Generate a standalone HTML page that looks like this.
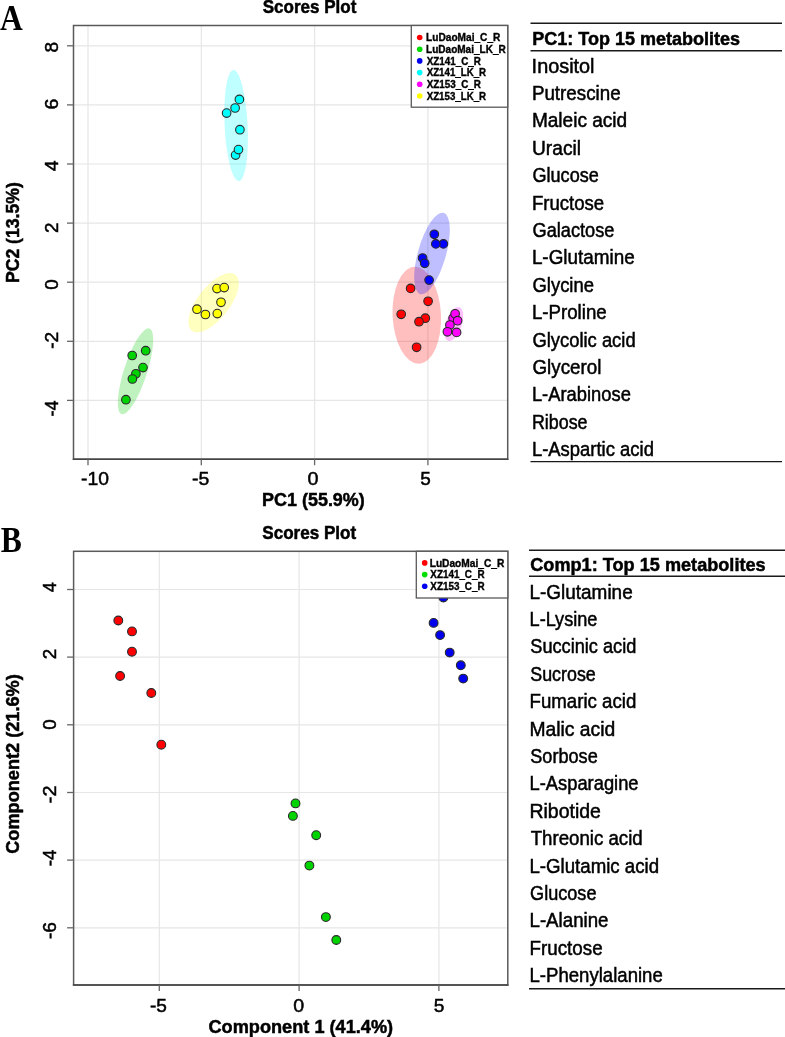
<!DOCTYPE html>
<html><head><meta charset="utf-8"><title>Scores Plot</title>
<style>html,body{margin:0;padding:0;background:#fff;width:785px;height:1037px;overflow:hidden}
svg text{font-kerning:normal}</style></head>
<body>
<svg width="785" height="1037" viewBox="0 0 785 1037" style="display:block;will-change:transform">
<rect x="0" y="0" width="785" height="1037" fill="#fff"/>
<line x1="88.0" y1="25.5" x2="88.0" y2="459.2" stroke="#e6e6e6" stroke-width="1.2"/>
<line x1="201.3" y1="25.5" x2="201.3" y2="459.2" stroke="#e6e6e6" stroke-width="1.2"/>
<line x1="314.6" y1="25.5" x2="314.6" y2="459.2" stroke="#e6e6e6" stroke-width="1.2"/>
<line x1="427.9" y1="25.5" x2="427.9" y2="459.2" stroke="#e6e6e6" stroke-width="1.2"/>
<line x1="73.5" y1="45.8" x2="507.7" y2="45.8" stroke="#e6e6e6" stroke-width="1.2"/>
<line x1="73.5" y1="104.9" x2="507.7" y2="104.9" stroke="#e6e6e6" stroke-width="1.2"/>
<line x1="73.5" y1="164.0" x2="507.7" y2="164.0" stroke="#e6e6e6" stroke-width="1.2"/>
<line x1="73.5" y1="223.1" x2="507.7" y2="223.1" stroke="#e6e6e6" stroke-width="1.2"/>
<line x1="73.5" y1="282.2" x2="507.7" y2="282.2" stroke="#e6e6e6" stroke-width="1.2"/>
<line x1="73.5" y1="341.3" x2="507.7" y2="341.3" stroke="#e6e6e6" stroke-width="1.2"/>
<line x1="73.5" y1="400.4" x2="507.7" y2="400.4" stroke="#e6e6e6" stroke-width="1.2"/>
<ellipse cx="0" cy="0" rx="24.2" ry="48.5" transform="translate(416.8,315.3) rotate(-2.8)" fill="#ff0000" fill-opacity="0.25"/>
<ellipse cx="0" cy="0" rx="11.5" ry="45.0" transform="translate(135.5,371.3) rotate(18.0)" fill="#00cd00" fill-opacity="0.25"/>
<ellipse cx="0" cy="0" rx="14.0" ry="42.3" transform="translate(432.0,253.5) rotate(16.0)" fill="#0000ff" fill-opacity="0.25"/>
<ellipse cx="0" cy="0" rx="11.5" ry="55.6" transform="translate(236.1,125.6) rotate(-2.8)" fill="#00ffff" fill-opacity="0.25"/>
<ellipse cx="0" cy="0" rx="8.0" ry="17.7" transform="translate(453.8,324.0) rotate(18.5)" fill="#ff00ff" fill-opacity="0.25"/>
<ellipse cx="0" cy="0" rx="16.0" ry="35.5" transform="translate(213.6,302.7) rotate(38.0)" fill="#ffff00" fill-opacity="0.25"/>
<rect x="73.5" y="25.5" width="434.2" height="433.7" fill="none" stroke="#5a5a5a" stroke-width="1.5"/>
<line x1="72.75" y1="459.2" x2="508.45" y2="459.2" stroke="#444" stroke-width="1.5"/>
<line x1="88.0" y1="459.2" x2="88.0" y2="465.2" stroke="#666" stroke-width="1.3"/>
<line x1="201.3" y1="459.2" x2="201.3" y2="465.2" stroke="#666" stroke-width="1.3"/>
<line x1="314.6" y1="459.2" x2="314.6" y2="465.2" stroke="#666" stroke-width="1.3"/>
<line x1="427.9" y1="459.2" x2="427.9" y2="465.2" stroke="#666" stroke-width="1.3"/>
<line x1="67.0" y1="45.8" x2="73.5" y2="45.8" stroke="#666" stroke-width="1.3"/>
<line x1="67.0" y1="104.9" x2="73.5" y2="104.9" stroke="#666" stroke-width="1.3"/>
<line x1="67.0" y1="164.0" x2="73.5" y2="164.0" stroke="#666" stroke-width="1.3"/>
<line x1="67.0" y1="223.1" x2="73.5" y2="223.1" stroke="#666" stroke-width="1.3"/>
<line x1="67.0" y1="282.2" x2="73.5" y2="282.2" stroke="#666" stroke-width="1.3"/>
<line x1="67.0" y1="341.3" x2="73.5" y2="341.3" stroke="#666" stroke-width="1.3"/>
<line x1="67.0" y1="400.4" x2="73.5" y2="400.4" stroke="#666" stroke-width="1.3"/>
<circle cx="410.6" cy="288.4" r="4.3" fill="#ff0000" stroke="#2a2a2a" stroke-width="1.1"/>
<circle cx="428.1" cy="301.3" r="4.3" fill="#ff0000" stroke="#2a2a2a" stroke-width="1.1"/>
<circle cx="401.2" cy="314.3" r="4.3" fill="#ff0000" stroke="#2a2a2a" stroke-width="1.1"/>
<circle cx="425.3" cy="318.2" r="4.3" fill="#ff0000" stroke="#2a2a2a" stroke-width="1.1"/>
<circle cx="419.0" cy="321.7" r="4.3" fill="#ff0000" stroke="#2a2a2a" stroke-width="1.1"/>
<circle cx="416.6" cy="347.3" r="4.3" fill="#ff0000" stroke="#2a2a2a" stroke-width="1.1"/>
<circle cx="145.7" cy="350.7" r="4.3" fill="#00d400" stroke="#2a2a2a" stroke-width="1.1"/>
<circle cx="132.2" cy="355.5" r="4.3" fill="#00d400" stroke="#2a2a2a" stroke-width="1.1"/>
<circle cx="143.0" cy="367.6" r="4.3" fill="#00d400" stroke="#2a2a2a" stroke-width="1.1"/>
<circle cx="135.9" cy="373.8" r="4.3" fill="#00d400" stroke="#2a2a2a" stroke-width="1.1"/>
<circle cx="132.4" cy="379.0" r="4.3" fill="#00d400" stroke="#2a2a2a" stroke-width="1.1"/>
<circle cx="125.9" cy="399.7" r="4.3" fill="#00d400" stroke="#2a2a2a" stroke-width="1.1"/>
<circle cx="434.3" cy="234.3" r="4.3" fill="#0000ff" stroke="#2a2a2a" stroke-width="1.1"/>
<circle cx="443.4" cy="243.9" r="4.3" fill="#0000ff" stroke="#2a2a2a" stroke-width="1.1"/>
<circle cx="435.8" cy="243.9" r="4.3" fill="#0000ff" stroke="#2a2a2a" stroke-width="1.1"/>
<circle cx="422.6" cy="258.0" r="4.3" fill="#0000ff" stroke="#2a2a2a" stroke-width="1.1"/>
<circle cx="424.7" cy="263.3" r="4.3" fill="#0000ff" stroke="#2a2a2a" stroke-width="1.1"/>
<circle cx="429.1" cy="280.1" r="4.3" fill="#0000ff" stroke="#2a2a2a" stroke-width="1.1"/>
<circle cx="239.4" cy="99.4" r="4.3" fill="#00ffff" stroke="#2a2a2a" stroke-width="1.1"/>
<circle cx="235.1" cy="108" r="4.3" fill="#00ffff" stroke="#2a2a2a" stroke-width="1.1"/>
<circle cx="226.6" cy="113.1" r="4.3" fill="#00ffff" stroke="#2a2a2a" stroke-width="1.1"/>
<circle cx="239.9" cy="129.7" r="4.3" fill="#00ffff" stroke="#2a2a2a" stroke-width="1.1"/>
<circle cx="235.6" cy="155.1" r="4.3" fill="#00ffff" stroke="#2a2a2a" stroke-width="1.1"/>
<circle cx="238.5" cy="149.6" r="4.3" fill="#00ffff" stroke="#2a2a2a" stroke-width="1.1"/>
<circle cx="453.1" cy="318.3" r="4.3" fill="#ff00ff" stroke="#2a2a2a" stroke-width="1.1"/>
<circle cx="455.1" cy="313.8" r="4.3" fill="#ff00ff" stroke="#2a2a2a" stroke-width="1.1"/>
<circle cx="457.6" cy="320.7" r="4.3" fill="#ff00ff" stroke="#2a2a2a" stroke-width="1.1"/>
<circle cx="449.9" cy="325" r="4.3" fill="#ff00ff" stroke="#2a2a2a" stroke-width="1.1"/>
<circle cx="447.4" cy="331.8" r="4.3" fill="#ff00ff" stroke="#2a2a2a" stroke-width="1.1"/>
<circle cx="456.6" cy="332.4" r="4.3" fill="#ff00ff" stroke="#2a2a2a" stroke-width="1.1"/>
<circle cx="217.0" cy="288.6" r="4.3" fill="#ffff00" stroke="#2a2a2a" stroke-width="1.1"/>
<circle cx="224.2" cy="287.6" r="4.3" fill="#ffff00" stroke="#2a2a2a" stroke-width="1.1"/>
<circle cx="221.0" cy="302.3" r="4.3" fill="#ffff00" stroke="#2a2a2a" stroke-width="1.1"/>
<circle cx="197.0" cy="309.2" r="4.3" fill="#ffff00" stroke="#2a2a2a" stroke-width="1.1"/>
<circle cx="205.4" cy="314.5" r="4.3" fill="#ffff00" stroke="#2a2a2a" stroke-width="1.1"/>
<circle cx="217.3" cy="313.6" r="4.3" fill="#ffff00" stroke="#2a2a2a" stroke-width="1.1"/>
<rect x="411.3" y="25.5" width="96.4" height="81.7" fill="#fff" stroke="#5a5a5a" stroke-width="1.3"/>
<circle cx="419.7" cy="37.5" r="2.8" fill="#ff0000"/>
<text x="426.09" y="41.10" font-family="Liberation Sans" font-weight="bold" font-size="10" textLength="74.33" lengthAdjust="spacingAndGlyphs" fill="#000" stroke="#000" stroke-width="0.35">LuDaoMai_C_R</text>
<circle cx="419.7" cy="49.2" r="2.8" fill="#00dd00"/>
<text x="426.10" y="52.80" font-family="Liberation Sans" font-weight="bold" font-size="10" textLength="79.62" lengthAdjust="spacingAndGlyphs" fill="#000" stroke="#000" stroke-width="0.35">LuDaoMai_LK_R</text>
<circle cx="419.7" cy="60.9" r="2.8" fill="#0000ee"/>
<text x="426.70" y="64.50" font-family="Liberation Sans" font-weight="bold" font-size="10" textLength="54.22" lengthAdjust="spacingAndGlyphs" fill="#000" stroke="#000" stroke-width="0.35">XZ141_C_R</text>
<circle cx="419.7" cy="72.6" r="2.8" fill="#00ffff"/>
<text x="426.70" y="76.20" font-family="Liberation Sans" font-weight="bold" font-size="10" textLength="59.42" lengthAdjust="spacingAndGlyphs" fill="#000" stroke="#000" stroke-width="0.35">XZ141_LK_R</text>
<circle cx="419.7" cy="84.3" r="2.8" fill="#ff00ff"/>
<text x="426.70" y="87.90" font-family="Liberation Sans" font-weight="bold" font-size="10" textLength="54.22" lengthAdjust="spacingAndGlyphs" fill="#000" stroke="#000" stroke-width="0.35">XZ153_C_R</text>
<circle cx="419.7" cy="96.0" r="2.8" fill="#ffff00"/>
<text x="426.70" y="99.60" font-family="Liberation Sans" font-weight="bold" font-size="10" textLength="59.42" lengthAdjust="spacingAndGlyphs" fill="#000" stroke="#000" stroke-width="0.35">XZ153_LK_R</text>
<text x="262.66" y="13.20" font-family="Liberation Sans" font-weight="bold" font-size="17.5" textLength="93.69" lengthAdjust="spacingAndGlyphs" fill="#000" stroke="#000" stroke-width="0.5">Scores Plot</text>
<text x="81.03" y="484.70" font-family="Liberation Sans" font-weight="normal" font-size="19" textLength="27.87" lengthAdjust="spacingAndGlyphs" fill="#000" stroke="#000" stroke-width="0.5">-10</text>
<text x="192.12" y="484.70" font-family="Liberation Sans" font-weight="normal" font-size="19" textLength="17.28" lengthAdjust="spacingAndGlyphs" fill="#000" stroke="#000" stroke-width="0.5">-5</text>
<text x="307.41" y="484.70" font-family="Liberation Sans" font-weight="normal" font-size="19" textLength="11.01" lengthAdjust="spacingAndGlyphs" fill="#000" stroke="#000" stroke-width="0.5">0</text>
<text x="420.24" y="484.70" font-family="Liberation Sans" font-weight="normal" font-size="19" textLength="10.54" lengthAdjust="spacingAndGlyphs" fill="#000" stroke="#000" stroke-width="0.5">5</text>
<text transform="translate(57.70,51.70) rotate(-90)" x="-0.77" y="0" font-family="Liberation Sans" font-weight="normal" font-size="19" textLength="10.66" lengthAdjust="spacingAndGlyphs" fill="#000" stroke="#000" stroke-width="0.5">8</text>
<text transform="translate(57.70,108.60) rotate(-90)" x="-0.98" y="0" font-family="Liberation Sans" font-weight="normal" font-size="19" textLength="10.89" lengthAdjust="spacingAndGlyphs" fill="#000" stroke="#000" stroke-width="0.5">6</text>
<text transform="translate(57.70,170.80) rotate(-90)" x="-0.39" y="0" font-family="Liberation Sans" font-weight="normal" font-size="19" textLength="10.90" lengthAdjust="spacingAndGlyphs" fill="#000" stroke="#000" stroke-width="0.5">4</text>
<text transform="translate(57.70,232.00) rotate(-90)" x="-0.95" y="0" font-family="Liberation Sans" font-weight="normal" font-size="19" textLength="10.52" lengthAdjust="spacingAndGlyphs" fill="#000" stroke="#000" stroke-width="0.5">2</text>
<text transform="translate(57.70,289.30) rotate(-90)" x="-0.56" y="0" font-family="Liberation Sans" font-weight="normal" font-size="19" textLength="10.44" lengthAdjust="spacingAndGlyphs" fill="#000" stroke="#000" stroke-width="0.5">0</text>
<text transform="translate(57.70,348.00) rotate(-90)" x="-0.77" y="0" font-family="Liberation Sans" font-weight="normal" font-size="19" textLength="17.05" lengthAdjust="spacingAndGlyphs" fill="#000" stroke="#000" stroke-width="0.5">-2</text>
<text transform="translate(57.70,415.80) rotate(-90)" x="-0.73" y="0" font-family="Liberation Sans" font-weight="normal" font-size="19" textLength="16.21" lengthAdjust="spacingAndGlyphs" fill="#000" stroke="#000" stroke-width="0.5">-4</text>
<text x="262.12" y="505.70" font-family="Liberation Sans" font-weight="bold" font-size="19" textLength="102.65" lengthAdjust="spacingAndGlyphs" fill="#000" stroke="#000" stroke-width="0.5">PC1 (55.9%)</text>
<text transform="translate(19.00,282.00) rotate(-90)" x="-1.06" y="0" font-family="Liberation Sans" font-weight="bold" font-size="19" textLength="100.81" lengthAdjust="spacingAndGlyphs" fill="#000" stroke="#000" stroke-width="0.5">PC2 (13.5%)</text>
<text x="0.00" y="29.60" font-family="Liberation Serif" font-weight="bold" font-size="36" textLength="22.77" lengthAdjust="spacingAndGlyphs" fill="#000">A</text>
<line x1="159.3" y1="551.3" x2="159.3" y2="985.0" stroke="#e6e6e6" stroke-width="1.2"/>
<line x1="299.1" y1="551.3" x2="299.1" y2="985.0" stroke="#e6e6e6" stroke-width="1.2"/>
<line x1="438.9" y1="551.3" x2="438.9" y2="985.0" stroke="#e6e6e6" stroke-width="1.2"/>
<line x1="73.6" y1="589.5" x2="507.8" y2="589.5" stroke="#e6e6e6" stroke-width="1.2"/>
<line x1="73.6" y1="657.1" x2="507.8" y2="657.1" stroke="#e6e6e6" stroke-width="1.2"/>
<line x1="73.6" y1="724.8" x2="507.8" y2="724.8" stroke="#e6e6e6" stroke-width="1.2"/>
<line x1="73.6" y1="792.5" x2="507.8" y2="792.5" stroke="#e6e6e6" stroke-width="1.2"/>
<line x1="73.6" y1="860.1" x2="507.8" y2="860.1" stroke="#e6e6e6" stroke-width="1.2"/>
<line x1="73.6" y1="927.8" x2="507.8" y2="927.8" stroke="#e6e6e6" stroke-width="1.2"/>
<rect x="73.6" y="551.3" width="434.20000000000005" height="433.70000000000005" fill="none" stroke="#5a5a5a" stroke-width="1.5"/>
<line x1="72.85" y1="985.0" x2="508.55" y2="985.0" stroke="#444" stroke-width="1.5"/>
<line x1="159.3" y1="985.0" x2="159.3" y2="991.0" stroke="#666" stroke-width="1.3"/>
<line x1="299.1" y1="985.0" x2="299.1" y2="991.0" stroke="#666" stroke-width="1.3"/>
<line x1="438.9" y1="985.0" x2="438.9" y2="991.0" stroke="#666" stroke-width="1.3"/>
<line x1="67.1" y1="589.5" x2="73.6" y2="589.5" stroke="#666" stroke-width="1.3"/>
<line x1="67.1" y1="657.1" x2="73.6" y2="657.1" stroke="#666" stroke-width="1.3"/>
<line x1="67.1" y1="724.8" x2="73.6" y2="724.8" stroke="#666" stroke-width="1.3"/>
<line x1="67.1" y1="792.5" x2="73.6" y2="792.5" stroke="#666" stroke-width="1.3"/>
<line x1="67.1" y1="860.1" x2="73.6" y2="860.1" stroke="#666" stroke-width="1.3"/>
<line x1="67.1" y1="927.8" x2="73.6" y2="927.8" stroke="#666" stroke-width="1.3"/>
<circle cx="118.3" cy="620.5" r="4.4" fill="#ff0000" stroke="#2a2a2a" stroke-width="1.1"/>
<circle cx="132.0" cy="631.4" r="4.4" fill="#ff0000" stroke="#2a2a2a" stroke-width="1.1"/>
<circle cx="132.0" cy="651.7" r="4.4" fill="#ff0000" stroke="#2a2a2a" stroke-width="1.1"/>
<circle cx="120.1" cy="676.0" r="4.4" fill="#ff0000" stroke="#2a2a2a" stroke-width="1.1"/>
<circle cx="151.3" cy="693.0" r="4.4" fill="#ff0000" stroke="#2a2a2a" stroke-width="1.1"/>
<circle cx="161.3" cy="744.7" r="4.4" fill="#ff0000" stroke="#2a2a2a" stroke-width="1.1"/>
<circle cx="295.5" cy="803.4" r="4.4" fill="#00d400" stroke="#2a2a2a" stroke-width="1.1"/>
<circle cx="292.9" cy="815.9" r="4.4" fill="#00d400" stroke="#2a2a2a" stroke-width="1.1"/>
<circle cx="316.2" cy="835.2" r="4.4" fill="#00d400" stroke="#2a2a2a" stroke-width="1.1"/>
<circle cx="309.4" cy="865.6" r="4.4" fill="#00d400" stroke="#2a2a2a" stroke-width="1.1"/>
<circle cx="325.9" cy="917.1" r="4.4" fill="#00d400" stroke="#2a2a2a" stroke-width="1.1"/>
<circle cx="336.3" cy="940.0" r="4.4" fill="#00d400" stroke="#2a2a2a" stroke-width="1.1"/>
<circle cx="443.4" cy="597.5" r="4.4" fill="#0000ee" stroke="#2a2a2a" stroke-width="1.1"/>
<circle cx="433.6" cy="622.9" r="4.4" fill="#0000ee" stroke="#2a2a2a" stroke-width="1.1"/>
<circle cx="440.1" cy="635.1" r="4.4" fill="#0000ee" stroke="#2a2a2a" stroke-width="1.1"/>
<circle cx="449.7" cy="652.6" r="4.4" fill="#0000ee" stroke="#2a2a2a" stroke-width="1.1"/>
<circle cx="460.8" cy="665.3" r="4.4" fill="#0000ee" stroke="#2a2a2a" stroke-width="1.1"/>
<circle cx="463.2" cy="678.6" r="4.4" fill="#0000ee" stroke="#2a2a2a" stroke-width="1.1"/>
<rect x="416.3" y="551.3" width="91.5" height="46.7" fill="#fff" stroke="#5a5a5a" stroke-width="1.3"/>
<circle cx="424.7" cy="562.9" r="2.8" fill="#ff0000"/>
<text x="429.69" y="566.50" font-family="Liberation Sans" font-weight="bold" font-size="10" textLength="74.63" lengthAdjust="spacingAndGlyphs" fill="#000" stroke="#000" stroke-width="0.35">LuDaoMai_C_R</text>
<circle cx="424.7" cy="574.6" r="2.8" fill="#00dd00"/>
<text x="430.30" y="578.20" font-family="Liberation Sans" font-weight="bold" font-size="10" textLength="54.32" lengthAdjust="spacingAndGlyphs" fill="#000" stroke="#000" stroke-width="0.35">XZ141_C_R</text>
<circle cx="424.7" cy="586.3" r="2.8" fill="#0000ee"/>
<text x="430.30" y="589.90" font-family="Liberation Sans" font-weight="bold" font-size="10" textLength="54.32" lengthAdjust="spacingAndGlyphs" fill="#000" stroke="#000" stroke-width="0.35">XZ153_C_R</text>
<text x="262.26" y="538.90" font-family="Liberation Sans" font-weight="bold" font-size="17.5" textLength="93.99" lengthAdjust="spacingAndGlyphs" fill="#000" stroke="#000" stroke-width="0.5">Scores Plot</text>
<text x="149.94" y="1011.90" font-family="Liberation Sans" font-weight="normal" font-size="19" textLength="16.95" lengthAdjust="spacingAndGlyphs" fill="#000" stroke="#000" stroke-width="0.5">-5</text>
<text x="293.21" y="1011.90" font-family="Liberation Sans" font-weight="normal" font-size="19" textLength="10.90" lengthAdjust="spacingAndGlyphs" fill="#000" stroke="#000" stroke-width="0.5">0</text>
<text x="433.73" y="1011.90" font-family="Liberation Sans" font-weight="normal" font-size="19" textLength="10.66" lengthAdjust="spacingAndGlyphs" fill="#000" stroke="#000" stroke-width="0.5">5</text>
<text transform="translate(56.20,591.80) rotate(-90)" x="-0.36" y="0" font-family="Liberation Sans" font-weight="normal" font-size="19" textLength="10.03" lengthAdjust="spacingAndGlyphs" fill="#000" stroke="#000" stroke-width="0.5">4</text>
<text transform="translate(56.20,658.30) rotate(-90)" x="-0.95" y="0" font-family="Liberation Sans" font-weight="normal" font-size="19" textLength="10.52" lengthAdjust="spacingAndGlyphs" fill="#000" stroke="#000" stroke-width="0.5">2</text>
<text transform="translate(56.20,729.20) rotate(-90)" x="-0.56" y="0" font-family="Liberation Sans" font-weight="normal" font-size="19" textLength="10.44" lengthAdjust="spacingAndGlyphs" fill="#000" stroke="#000" stroke-width="0.5">0</text>
<text transform="translate(56.20,802.40) rotate(-90)" x="-0.80" y="0" font-family="Liberation Sans" font-weight="normal" font-size="19" textLength="17.72" lengthAdjust="spacingAndGlyphs" fill="#000" stroke="#000" stroke-width="0.5">-2</text>
<text transform="translate(56.20,865.50) rotate(-90)" x="-0.75" y="0" font-family="Liberation Sans" font-weight="normal" font-size="19" textLength="16.64" lengthAdjust="spacingAndGlyphs" fill="#000" stroke="#000" stroke-width="0.5">-4</text>
<text transform="translate(56.20,938.30) rotate(-90)" x="-0.77" y="0" font-family="Liberation Sans" font-weight="normal" font-size="19" textLength="17.06" lengthAdjust="spacingAndGlyphs" fill="#000" stroke="#000" stroke-width="0.5">-6</text>
<text x="208.47" y="1032.90" font-family="Liberation Sans" font-weight="bold" font-size="19" textLength="184.71" lengthAdjust="spacingAndGlyphs" fill="#000" stroke="#000" stroke-width="0.5">Component 1 (41.4%)</text>
<text transform="translate(19.00,853.10) rotate(-90)" x="-0.73" y="0" font-family="Liberation Sans" font-weight="bold" font-size="19" textLength="179.61" lengthAdjust="spacingAndGlyphs" fill="#000" stroke="#000" stroke-width="0.5">Component2 (21.6%)</text>
<text x="0.68" y="551.80" font-family="Liberation Serif" font-weight="bold" font-size="35" textLength="21.07" lengthAdjust="spacingAndGlyphs" fill="#000">B</text>
<line x1="530.5" y1="23.2" x2="782" y2="23.2" stroke="#1a1a1a" stroke-width="1.4"/>
<line x1="530.5" y1="50.8" x2="782" y2="50.8" stroke="#1a1a1a" stroke-width="1.4"/>
<line x1="530.5" y1="461.6" x2="782" y2="461.6" stroke="#1a1a1a" stroke-width="1.4"/>
<text x="532.32" y="44.70" font-family="Liberation Sans" font-weight="bold" font-size="18.8" textLength="207.83" lengthAdjust="spacingAndGlyphs" fill="#000" stroke="#000" stroke-width="0.5">PC1: Top 15 metabolites</text>
<text x="531.61" y="72.60" font-family="Liberation Sans" font-weight="normal" font-size="19.7" textLength="62.92" lengthAdjust="spacingAndGlyphs" fill="#000" stroke="#000" stroke-width="0.5">Inositol</text>
<text x="531.90" y="100.00" font-family="Liberation Sans" font-weight="normal" font-size="19.7" textLength="88.78" lengthAdjust="spacingAndGlyphs" fill="#000" stroke="#000" stroke-width="0.5">Putrescine</text>
<text x="531.88" y="127.40" font-family="Liberation Sans" font-weight="normal" font-size="19.7" textLength="95.29" lengthAdjust="spacingAndGlyphs" fill="#000" stroke="#000" stroke-width="0.5">Maleic acid</text>
<text x="532.06" y="154.80" font-family="Liberation Sans" font-weight="normal" font-size="19.7" textLength="48.93" lengthAdjust="spacingAndGlyphs" fill="#000" stroke="#000" stroke-width="0.5">Uracil</text>
<text x="532.50" y="182.20" font-family="Liberation Sans" font-weight="normal" font-size="19.7" textLength="66.26" lengthAdjust="spacingAndGlyphs" fill="#000" stroke="#000" stroke-width="0.5">Glucose</text>
<text x="531.91" y="209.60" font-family="Liberation Sans" font-weight="normal" font-size="19.7" textLength="72.26" lengthAdjust="spacingAndGlyphs" fill="#000" stroke="#000" stroke-width="0.5">Fructose</text>
<text x="532.49" y="237.00" font-family="Liberation Sans" font-weight="normal" font-size="19.7" textLength="81.87" lengthAdjust="spacingAndGlyphs" fill="#000" stroke="#000" stroke-width="0.5">Galactose</text>
<text x="531.89" y="264.40" font-family="Liberation Sans" font-weight="normal" font-size="19.7" textLength="102.79" lengthAdjust="spacingAndGlyphs" fill="#000" stroke="#000" stroke-width="0.5">L-Glutamine</text>
<text x="532.48" y="291.80" font-family="Liberation Sans" font-weight="normal" font-size="19.7" textLength="61.49" lengthAdjust="spacingAndGlyphs" fill="#000" stroke="#000" stroke-width="0.5">Glycine</text>
<text x="531.91" y="319.20" font-family="Liberation Sans" font-weight="normal" font-size="19.7" textLength="74.77" lengthAdjust="spacingAndGlyphs" fill="#000" stroke="#000" stroke-width="0.5">L-Proline</text>
<text x="532.48" y="346.60" font-family="Liberation Sans" font-weight="normal" font-size="19.7" textLength="103.15" lengthAdjust="spacingAndGlyphs" fill="#000" stroke="#000" stroke-width="0.5">Glycolic acid</text>
<text x="532.46" y="374.00" font-family="Liberation Sans" font-weight="normal" font-size="19.7" textLength="68.91" lengthAdjust="spacingAndGlyphs" fill="#000" stroke="#000" stroke-width="0.5">Glycerol</text>
<text x="531.93" y="401.40" font-family="Liberation Sans" font-weight="normal" font-size="19.7" textLength="98.93" lengthAdjust="spacingAndGlyphs" fill="#000" stroke="#000" stroke-width="0.5">L-Arabinose</text>
<text x="531.97" y="428.80" font-family="Liberation Sans" font-weight="normal" font-size="19.7" textLength="55.57" lengthAdjust="spacingAndGlyphs" fill="#000" stroke="#000" stroke-width="0.5">Ribose</text>
<text x="531.92" y="456.20" font-family="Liberation Sans" font-weight="normal" font-size="19.7" textLength="122.01" lengthAdjust="spacingAndGlyphs" fill="#000" stroke="#000" stroke-width="0.5">L-Aspartic acid</text>
<line x1="529" y1="550.3" x2="785" y2="550.3" stroke="#1a1a1a" stroke-width="1.4"/>
<line x1="529" y1="576.2" x2="785" y2="576.2" stroke="#1a1a1a" stroke-width="1.4"/>
<line x1="529" y1="988.8" x2="785" y2="988.8" stroke="#1a1a1a" stroke-width="1.4"/>
<text x="530.27" y="570.50" font-family="Liberation Sans" font-weight="bold" font-size="18.8" textLength="235.38" lengthAdjust="spacingAndGlyphs" fill="#000" stroke="#000" stroke-width="0.5">Comp1: Top 15 metabolites</text>
<text x="529.48" y="598.60" font-family="Liberation Sans" font-weight="normal" font-size="19.7" textLength="103.20" lengthAdjust="spacingAndGlyphs" fill="#000" stroke="#000" stroke-width="0.5">L-Glutamine</text>
<text x="529.55" y="626.00" font-family="Liberation Sans" font-weight="normal" font-size="19.7" textLength="67.91" lengthAdjust="spacingAndGlyphs" fill="#000" stroke="#000" stroke-width="0.5">L-Lysine</text>
<text x="530.27" y="653.40" font-family="Liberation Sans" font-weight="normal" font-size="19.7" textLength="106.05" lengthAdjust="spacingAndGlyphs" fill="#000" stroke="#000" stroke-width="0.5">Succinic acid</text>
<text x="530.29" y="680.80" font-family="Liberation Sans" font-weight="normal" font-size="19.7" textLength="65.46" lengthAdjust="spacingAndGlyphs" fill="#000" stroke="#000" stroke-width="0.5">Sucrose</text>
<text x="529.51" y="708.20" font-family="Liberation Sans" font-weight="normal" font-size="19.7" textLength="106.84" lengthAdjust="spacingAndGlyphs" fill="#000" stroke="#000" stroke-width="0.5">Fumaric acid</text>
<text x="529.46" y="735.60" font-family="Liberation Sans" font-weight="normal" font-size="19.7" textLength="85.83" lengthAdjust="spacingAndGlyphs" fill="#000" stroke="#000" stroke-width="0.5">Malic acid</text>
<text x="530.28" y="763.00" font-family="Liberation Sans" font-weight="normal" font-size="19.7" textLength="67.48" lengthAdjust="spacingAndGlyphs" fill="#000" stroke="#000" stroke-width="0.5">Sorbose</text>
<text x="529.53" y="790.40" font-family="Liberation Sans" font-weight="normal" font-size="19.7" textLength="109.03" lengthAdjust="spacingAndGlyphs" fill="#000" stroke="#000" stroke-width="0.5">L-Asparagine</text>
<text x="529.44" y="817.80" font-family="Liberation Sans" font-weight="normal" font-size="19.7" textLength="71.46" lengthAdjust="spacingAndGlyphs" fill="#000" stroke="#000" stroke-width="0.5">Ribotide</text>
<text x="530.63" y="845.20" font-family="Liberation Sans" font-weight="normal" font-size="19.7" textLength="112.12" lengthAdjust="spacingAndGlyphs" fill="#000" stroke="#000" stroke-width="0.5">Threonic acid</text>
<text x="529.51" y="872.60" font-family="Liberation Sans" font-weight="normal" font-size="19.7" textLength="129.54" lengthAdjust="spacingAndGlyphs" fill="#000" stroke="#000" stroke-width="0.5">L-Glutamic acid</text>
<text x="530.10" y="900.00" font-family="Liberation Sans" font-weight="normal" font-size="19.7" textLength="66.36" lengthAdjust="spacingAndGlyphs" fill="#000" stroke="#000" stroke-width="0.5">Glucose</text>
<text x="529.50" y="927.40" font-family="Liberation Sans" font-weight="normal" font-size="19.7" textLength="78.97" lengthAdjust="spacingAndGlyphs" fill="#000" stroke="#000" stroke-width="0.5">L-Alanine</text>
<text x="529.50" y="954.80" font-family="Liberation Sans" font-weight="normal" font-size="19.7" textLength="73.08" lengthAdjust="spacingAndGlyphs" fill="#000" stroke="#000" stroke-width="0.5">Fructose</text>
<text x="529.51" y="982.20" font-family="Liberation Sans" font-weight="normal" font-size="19.7" textLength="133.26" lengthAdjust="spacingAndGlyphs" fill="#000" stroke="#000" stroke-width="0.5">L-Phenylalanine</text>
</svg>
</body></html>
